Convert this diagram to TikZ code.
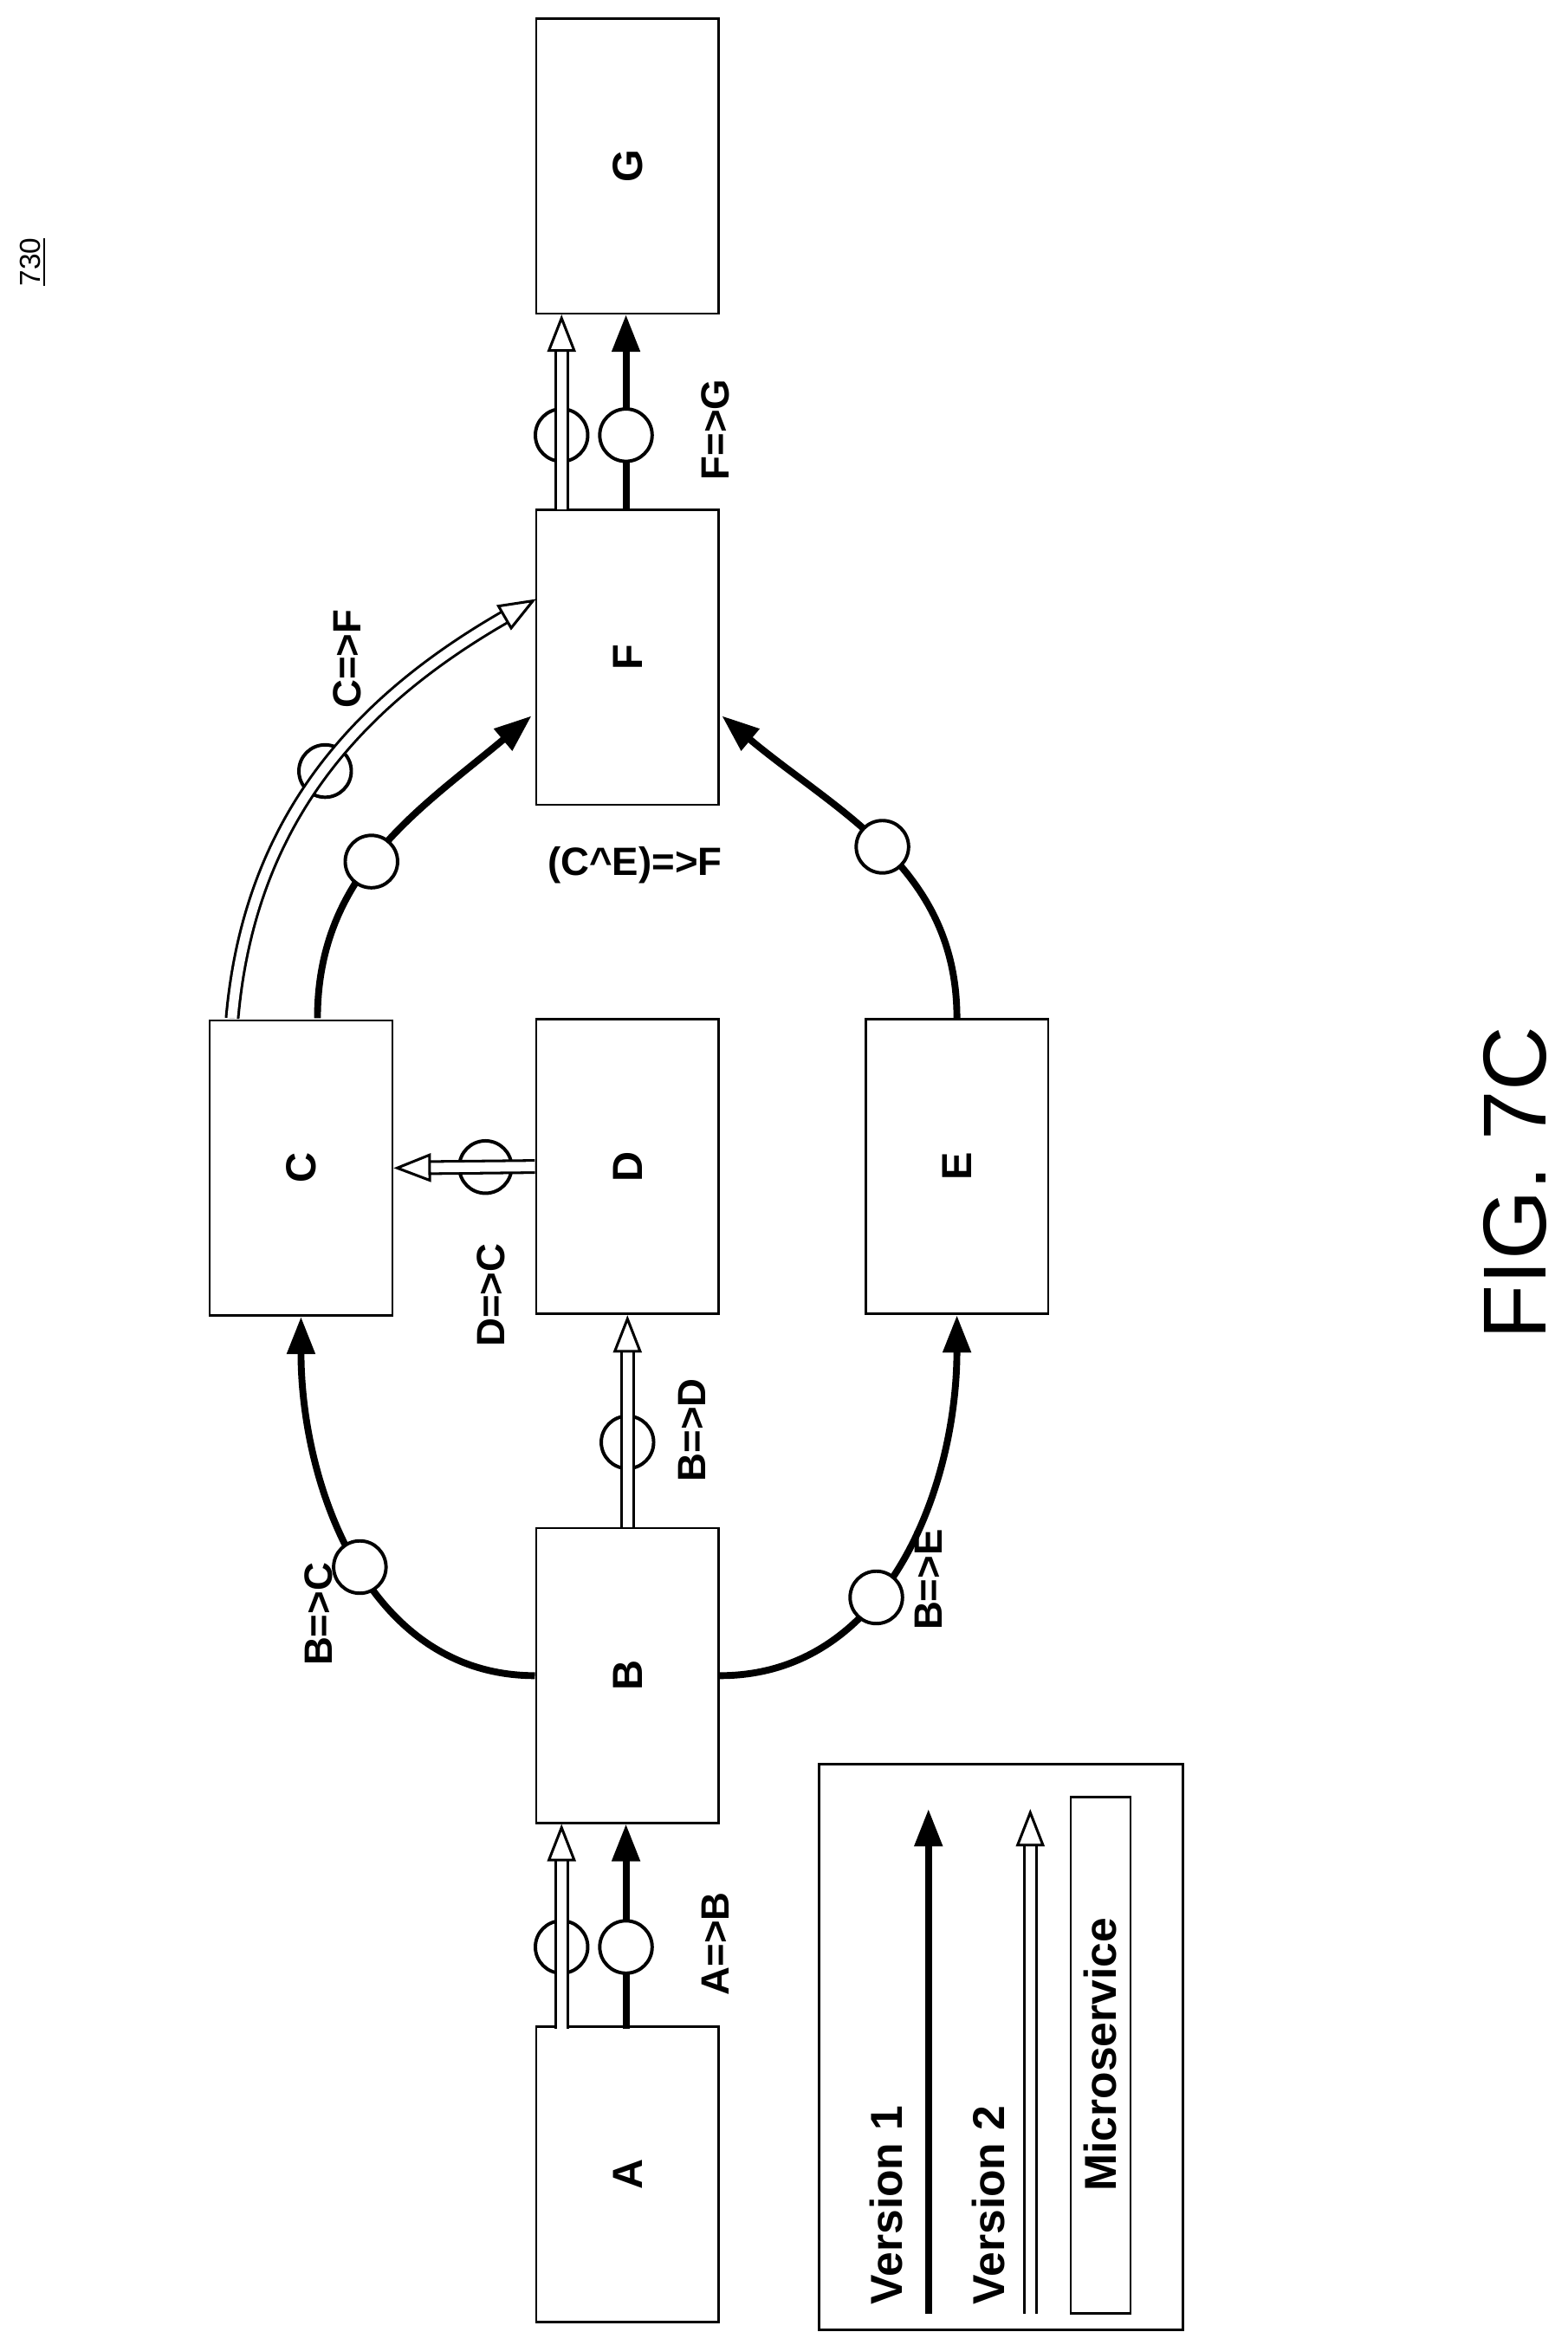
\documentclass[tikz,border=0pt]{standalone}
\usepackage{fontspec}
\setmainfont{Liberation Sans}
\usetikzlibrary{arrows.meta}
\tikzset{
  svc/.style={draw, line width=0.9pt, minimum width=2.44cm, minimum height=3.94cm},
  lbl/.style={rotate=90, font=\fontsize{15}{17}\selectfont\bfseries},
  vone/.style={line width=2.6pt, -{Triangle[length=0.5cm,width=0.36cm]}},
  vtwo/.style={line width=1pt, double distance=3.6pt,
    -{Triangle[open,length=0.5cm,width=0.38cm]}},
  ring/.style={circle, draw, line width=1.3pt, fill=white, minimum size=0.7cm, inner sep=0pt}
}
\begin{document}
\begin{tikzpicture}[x=0.02cm,y=0.02cm]
\useasboundingbox (0,0) rectangle (1047,-1566);
% microservices
\node[svc] (A) at (419,-1452) {};
\node[svc] (B) at (419,-1119) {};
\node[svc] (C) at (201,-780) {};
\node[svc] (D) at (419,-779) {};
\node[svc] (E) at (639,-779) {};
\node[svc] (F) at (419,-439) {};
\node[svc] (G) at (419,-111) {};
\foreach \n in {A,B,C,D,E,F,G}
  \node[lbl, font=\fontsize{16}{18}\selectfont\bfseries] at (\n) {\n};
% A=>B and F=>G
\draw[vtwo] (375,-1355) -- node[ring, behind path, pos=0.4] {} (375,-1218);
\draw[vone] (418,-1355) -- node[ring, pos=0.4] {} (418,-1218);
\draw[vtwo] (375,-340) -- node[ring, behind path, pos=0.38] {} (375,-210);
\draw[vone] (418,-340) -- node[ring, pos=0.38] {} (418,-210);
% B=>D and D=>C
\draw[vtwo] (B.north) -- node[ring, behind path, pos=0.4] {} (D.south);
\draw[vtwo] (D.west) -- node[ring, behind path, pos=0.35] {} (C.east);
% curves
\draw[vone] (B.west) to[out=180,in=-90] node[ring, pos=0.48] {} (C.south);
\draw[vone] (B.east) to[out=0,in=-90] node[ring, pos=0.4] {} (E.south);
\draw[vone] (212,-680) to[out=90,in=220] node[ring, pos=0.45] {} (355,-478);
\draw[vtwo] (155,-680) to[out=85,in=210] node[ring, behind path, pos=0.5] {} (358,-400);
\draw[vone] (E.north) to[out=90,in=-40] node[ring, pos=0.5] {} (482,-478);
% labels
\node[lbl] at (478,-1298) {A=>B};
\node[lbl] at (478,-287) {F=>G};
\node[lbl] at (462,-955) {B=>D};
\node[lbl] at (328,-865) {D=>C};
\node[lbl] at (213,-1078) {B=>C};
\node[lbl] at (620,-1055) {B=>E};
\node[lbl] at (232,-440) {C=>F};
\node[font=\fontsize{15}{17}\selectfont\bfseries] at (424,-578) {(C\textasciicircum E)=>F};
\node[rotate=90, font=\fontsize{11}{13}\selectfont] at (22,-175) {\underline{730}};
% legend
\draw[line width=0.9pt] (547,-1178) rectangle (790,-1556);
\draw[vone] (620,-1545) -- (620,-1208);
\draw[vtwo] (688,-1545) -- (688,-1208);
\node[rotate=90, anchor=west, font=\fontsize{17}{20}\selectfont\bfseries] at (592,-1545) {Version 1};
\node[rotate=90, anchor=west, font=\fontsize{17}{20}\selectfont\bfseries] at (660,-1545) {Version 2};
\draw[line width=0.9pt] (715,-1200) rectangle (755,-1545);
\node[rotate=90, font=\fontsize{17}{20}\selectfont\bfseries] at (735,-1372) {Microservice};
\node[rotate=90, font=\fontsize{34}{40}\selectfont] at (1012,-790) {FIG. 7C};
\end{tikzpicture}
\end{document}
